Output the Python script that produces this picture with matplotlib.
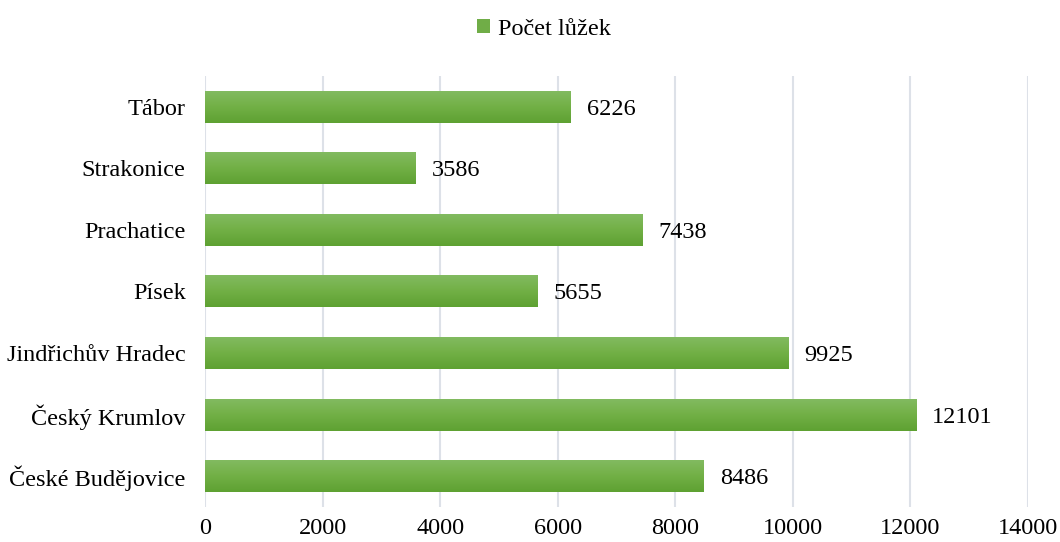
import numpy as np
import matplotlib.pyplot as plt
from matplotlib.patches import Patch
from matplotlib.colors import LinearSegmentedColormap

# Počet lůžek podle okresů Jihočeského kraje
okresy = ['České Budějovice', 'Český Krumlov', 'Jindřichův Hradec', 'Písek',
          'Prachatice', 'Strakonice', 'Tábor']
pocet_luzek = [8486, 12101, 9925, 5655, 7438, 3586, 6226]
x_ticks = [0, 2000, 4000, 6000, 8000, 10000, 12000, 14000]

plt.rcParams['font.family'] = ['Liberation Serif', 'DejaVu Serif']
FS = 17.5

fig = plt.figure(figsize=(10.6, 5.42), dpi=100)
ax = fig.add_axes([0.1934, 0.0646, 0.7764, 0.7952])

y = np.arange(len(okresy))
vyska = 0.52
bars = ax.barh(y, pocet_luzek, height=vyska, color='#70ad47', zorder=2)

# gradient ve sloupcích (světlejší nahoře, tmavší dole)
cmap = LinearSegmentedColormap.from_list('zelena', ['#5ea132', '#72b046', '#83bb62'])
grad = np.linspace(0, 1, 100).reshape(-1, 1)
for b in bars:
    x0, y0 = b.get_x(), b.get_y()
    w, h = b.get_width(), b.get_height()
    im = ax.imshow(grad, cmap=cmap, aspect='auto', origin='lower',
                   extent=[x0, x0 + w, y0, y0 + h], zorder=3)
    im.set_clip_path(b)
    b.set_alpha(0)

for yi, v in zip(y, pocet_luzek):
    ax.text(v + 270, yi, str(v), va='center_baseline', ha='left', fontsize=FS)

ax.set_xlim(0, 14000)
ax.set_ylim(-0.5, len(okresy) - 0.5)
ax.set_xticks(x_ticks)
ax.set_xticklabels([str(t) for t in x_ticks], fontsize=FS)
ax.set_yticks(y)
ax.set_yticklabels(okresy, fontsize=FS)
ax.tick_params(length=0)
ax.tick_params(axis='x', pad=8)
ax.tick_params(axis='y', pad=14)
ax.grid(axis='x', color='#dde1e8', linewidth=1.5, zorder=0)
for s in ax.spines.values():
    s.set_visible(False)

fig.legend(handles=[Patch(facecolor='#70ad47', label='Počet lůžek')],
           loc='upper center', bbox_to_anchor=(0.513, 1.006), frameon=False,
           fontsize=FS, handlelength=0.55, handleheight=0.55, handletextpad=0.3)

fig.savefig('out.png', dpi=100)
